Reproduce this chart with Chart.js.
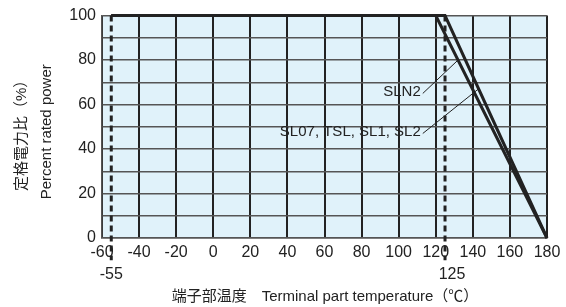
<!DOCTYPE html>
<html>
<head>
<meta charset="utf-8">
<script src="https://cdn.jsdelivr.net/npm/chart.js@4"></script>
<style>
  html, body { margin: 0; padding: 0; background: #fff; }
  #wrap { width: 566px; height: 307px; }
</style>
</head>
<body>
<div id="wrap"><canvas id="derating" width="566" height="307"></canvas></div>
<script>
// derating curves (temperature, % rated power)
var sln2Temp = [-55, 120, 180];
var sln2Power = [100, 100, 0];
var sl07Temp = [-55, 125, 180];
var sl07Power = [100, 100, 0];

// dashed limits of operating range
var limitTemps = [-55, 125];

// curve labels with leader lines (data units)
var curveNames = ['SLN2', 'SL07, TSL, SL1, SL2'];
var leaderStart = [[113, 65], [113, 47]];
var leaderEnd = [[132, 80], [143, 67]];

var yTitle = ['定格電力比（%）', 'Percent rated power'];
var xTitle = '端子部温度　Terminal part temperature（℃）';

var FONT = '"Liberation Sans", Arial, "Noto Sans CJK JP", sans-serif';
var INK = '#222';

function toPoints(xs, ys) {
    var pts = [];
    for (var i = 0; i < xs.length; i++) pts.push({ x: xs[i], y: ys[i] });
    return pts;
}

var datasets = [
    { label: 'SLN2', data: toPoints(sln2Temp, sln2Power), borderColor: INK, borderWidth: 3, pointRadius: 0, fill: false, clip: false },
    { label: 'SL07', data: toPoints(sl07Temp, sl07Power), borderColor: INK, borderWidth: 3, pointRadius: 0, fill: false, clip: false }
];
limitTemps.forEach(function (t) {
    datasets.push({
        label: 'limit ' + t,
        data: [{ x: t, y: 100 }, { x: t, y: -10 }],
        borderColor: INK, borderWidth: 3, borderDash: [6, 4],
        pointRadius: 0, fill: false, clip: false
    });
});

var extras = {
    id: 'extras',
    beforeDraw: function (chart) {
        var a = chart.chartArea, ctx = chart.ctx;
        ctx.save();
        ctx.fillStyle = '#e0f2fa';
        ctx.fillRect(a.left, a.top, a.right - a.left, a.bottom - a.top);
        ctx.restore();
    },
    afterDraw: function (chart) {
        var ctx = chart.ctx, xs = chart.scales.x, ys = chart.scales.y, a = chart.chartArea;
        ctx.save();
        ctx.fillStyle = INK;
        ctx.strokeStyle = INK;
        ctx.font = '15px ' + FONT;

        // curve labels
        ctx.lineWidth = 1;
        for (var i = 0; i < curveNames.length; i++) {
            var x0 = xs.getPixelForValue(leaderStart[i][0]), y0 = ys.getPixelForValue(leaderStart[i][1]);
            var x1 = xs.getPixelForValue(leaderEnd[i][0]), y1 = ys.getPixelForValue(leaderEnd[i][1]);
            ctx.beginPath();
            ctx.moveTo(x0, y0);
            ctx.lineTo(x1, y1);
            ctx.stroke();
            ctx.textAlign = 'right';
            ctx.textBaseline = 'middle';
            ctx.fillText(curveNames[i], x0 - 2, y0 - 2);
        }

        // extra tick labels for the limits
        ctx.font = '16px ' + FONT;
        ctx.textAlign = 'center';
        ctx.textBaseline = 'middle';
        limitTemps.forEach(function (t) {
            ctx.fillText(String(t), xs.getPixelForValue(t) + (t > 0 ? 7 : 0), 275);
        });

        // axis titles
        ctx.font = '15px ' + FONT;
        ctx.fillText(xTitle, 325, 297);
        var cy = (a.top + a.bottom) / 2 + 5;
        ctx.translate(0, cy);
        ctx.rotate(-Math.PI / 2);
        ctx.fillText(yTitle[0], 0, 22);
        ctx.fillText(yTitle[1], 0, 47);
        ctx.restore();
    }
};

new Chart(document.getElementById('derating').getContext('2d'), {
    type: 'line',
    data: { datasets: datasets },
    options: {
        responsive: false,
        animation: false,
        layout: { padding: { top: 13, right: 19, left: 0, bottom: 0 } },
        plugins: { legend: { display: false }, tooltip: { enabled: false } },
        scales: {
            x: {
                type: 'linear', min: -60, max: 180,
                afterFit: function (s) { s.height = 69; },
                ticks: { stepSize: 20, padding: 5, color: INK, font: { family: FONT, size: 16 }, maxRotation: 0, autoSkip: false },
                grid: { color: '#222', lineWidth: 2, drawTicks: false },
                border: { color: '#555', width: 1.5 }
            },
            y: {
                min: 0, max: 100,
                afterFit: function (s) { s.width = 102; },
                ticks: {
                    stepSize: 10, padding: 6, color: INK, font: { family: FONT, size: 16 },
                    callback: function (v) { return v % 20 === 0 ? v : ''; }
                },
                grid: { color: '#555', lineWidth: 1.5, drawTicks: false },
                border: { color: '#555', width: 1.5 }
            }
        }
    },
    plugins: [extras]
});
</script>
</body>
</html>
